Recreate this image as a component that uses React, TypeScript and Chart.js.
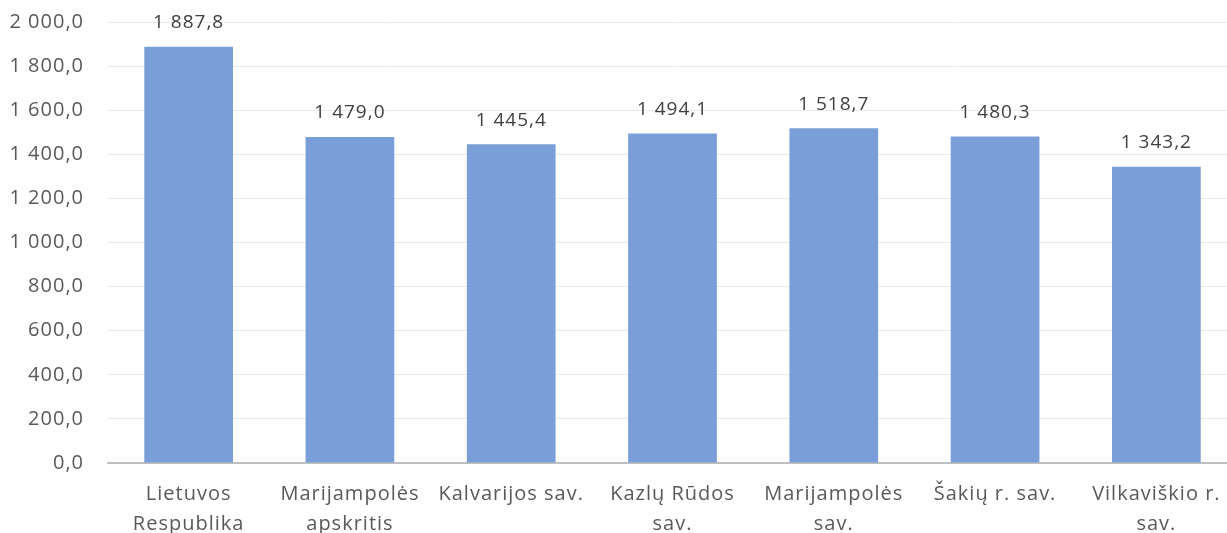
import React, { useEffect, useRef } from "react";
import { Chart, registerables } from "chart.js";

Chart.register(...registerables);

const categories: (string | string[])[] = [
  ["Lietuvos", "Respublika"],
  ["Marijampolės", "apskritis"],
  "Kalvarijos sav.",
  ["Kazlų Rūdos", "sav."],
  ["Marijampolės", "sav."],
  "Šakių r. sav.",
  ["Vilkaviškio r.", "sav."],
];
const values: number[] = [1887.8, 1479.0, 1445.4, 1494.1, 1518.7, 1480.3, 1343.2];

const fmt = (v: number) => {
  const [i, d] = v.toFixed(1).split(".");
  const ii = i.replace(/\B(?=(\d{3})+(?!\d))/g, " ");
  return ii + "," + d;
};

const FONT = "'Open Sans', sans-serif";
const SPACING = "1px";

const spacingPlugin = {
  id: "spacing",
  beforeUpdate(chart: any) {
    chart.ctx.letterSpacing = SPACING;
  },
  beforeLayout(chart: any) {
    chart.ctx.letterSpacing = SPACING;
  },
  beforeDraw(chart: any) {
    chart.ctx.letterSpacing = SPACING;
  },
};

const labelPlugin = {
  id: "barLabels",
  afterDatasetsDraw(chart: any) {
    const ctx = chart.ctx;
    const meta = chart.getDatasetMeta(0);
    ctx.save();
    ctx.letterSpacing = SPACING;
    ctx.font = `19px ${FONT}`;
    ctx.fillStyle = "#404040";
    ctx.textAlign = "center";
    ctx.textBaseline = "middle";
    meta.data.forEach((bar: any, i: number) => {
      ctx.fillText(fmt(values[i]), bar.x, bar.y - 24);
    });
    ctx.restore();
  },
};

export default function App() {
  const ref = useRef<HTMLCanvasElement>(null);
  useEffect(() => {
    if (!ref.current) return;
    const c2d = ref.current.getContext("2d") as any;
    if (c2d) c2d.letterSpacing = SPACING;
    const chart = new Chart(ref.current, {
      type: "bar",
      data: {
        labels: categories,
        datasets: [
          {
            data: values,
            backgroundColor: "#7A9ED7",
            barPercentage: 0.55,
            categoryPercentage: 1,
          },
        ],
      },
      options: {
        animation: false,
        responsive: false,
        maintainAspectRatio: false,
        layout: { padding: { top: 22, left: 0, right: 0, bottom: 0 } },
        plugins: { legend: { display: false }, tooltip: { enabled: false } },
        scales: {
          x: {
            grid: { display: false, drawTicks: false },
            border: { display: true, color: "#BFBFBF", width: 2 },
            ticks: {
              color: "#595959",
              font: { family: FONT, size: 20, lineHeight: 1.5 },
              padding: 16,
              maxRotation: 0,
              autoSkip: false,
            },
            afterFit: (s: any) => {
              s.height = 560 - 463;
              s.paddingLeft = 0;
              s.paddingRight = 0;
            },
          },
          y: {
            min: 0,
            max: 2000,
            ticks: {
              stepSize: 200,
              color: "#595959",
              font: { family: FONT, size: 20 },
              padding: 24,
              callback: (v: any) => fmt(Number(v)),
            },
            grid: { color: "#E9E9E9", lineWidth: 1, drawTicks: false },
            border: { display: false },
            afterFit: (s: any) => {
              s.width = 108;
              s.paddingTop = 0;
              s.paddingBottom = 0;
            },
          },
        },
      },
      plugins: [spacingPlugin, labelPlugin],
    });
    return () => chart.destroy();
  }, []);
  return (
    <div
      style={{
        position: "fixed",
        left: 0,
        top: 0,
        width: 1227,
        height: 533,
        overflow: "hidden",
        background: "#fff",
      }}
    >
      <canvas ref={ref} width={1237} height={560} style={{ display: "block" }} />
    </div>
  );
}
